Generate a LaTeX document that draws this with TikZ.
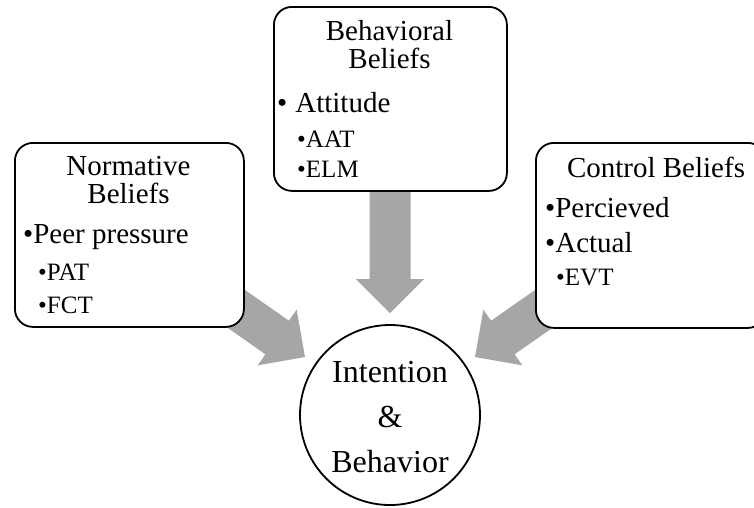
\documentclass[tikz,border=0pt]{standalone}
\usepackage{fontspec}
\setmainfont{Liberation Serif}
\definecolor{arrowgray}{RGB}{166,166,166}
\begin{document}
\begin{tikzpicture}[x=1pt,y=-1pt,
  box/.style={draw=black, line width=1.8pt, fill=white, rounded corners=18pt, inner sep=0pt},
  circbox/.style={draw=black, line width=1.8pt, fill=white, circle, inner sep=0pt, minimum size=180pt},
  ttl/.style={anchor=base, font=\fontsize{29}{28}\selectfont, align=center, inner sep=0pt},
  item/.style={anchor=base west, font=\fontsize{29}{29}\selectfont, inner sep=0pt},
  subitem/.style={anchor=base west, font=\fontsize{25}{25}\selectfont, inner sep=0pt},
  ctext/.style={anchor=base, font=\fontsize{32}{32}\selectfont, inner sep=0pt},
  barrow/.pic={\fill[arrowgray] (-130,-20.5) -- (-34,-20.5) -- (-34,-34) -- (0,0) -- (-34,34) -- (-34,20.5) -- (-130,20.5) -- cycle;}]
\useasboundingbox (0,0) rectangle (754,507);
% arrow tips
\coordinate (tipL) at (305,357);
\coordinate (tipM) at (390,313);
\coordinate (tipR) at (475,357);
\pic[rotate=-35] at (tipL) {barrow};
\pic[rotate=-90] at (tipM) {barrow};
\pic[rotate=-145] at (tipR) {barrow};
% boxes
\node[box, anchor=north west, minimum width=229pt, minimum height=184pt] (nb) at (14,142) {};
\node[box, anchor=north west, minimum width=233pt, minimum height=184pt] (bb) at (273,6) {};
\node[box, anchor=north west, minimum width=230pt, minimum height=185pt] (cb) at (535,142) {};
\node[circbox] (ib) at (390,415) {};
% left texts
\node[ttl] (nb1) at (128.5,203) {Normative\\Beliefs};
\node[item] (nb3) at (23,243) {•Peer pressure};
\node[subitem] (nb4) at (38,280) {•PAT};
\node[subitem] (nb5) at (38,313) {•FCT};
% middle texts
\node[ttl] (bb1) at (389.5,68) {Behavioral\\Beliefs};
\node[item] (bb3) at (277,112) {•\hspace{8pt}Attitude};
\node[subitem] (bb4) at (297,147) {•AAT};
\node[subitem] (bb5) at (297,177) {•ELM};
% right texts
\node[ttl] (cb1) at (656,177) {Control Beliefs};
\node[item] (cb2) at (545,217) {•Percieved};
\node[item] (cb3) at (545,252) {•Actual};
\node[subitem] (cb4) at (556,285) {•EVT};
% circle texts
\node[ctext] (ib1) at (390,382) {Intention};
\node[ctext] (ib2) at (390,427) {\&};
\node[ctext] (ib3) at (390,472) {Behavior};
\end{tikzpicture}
\end{document}
